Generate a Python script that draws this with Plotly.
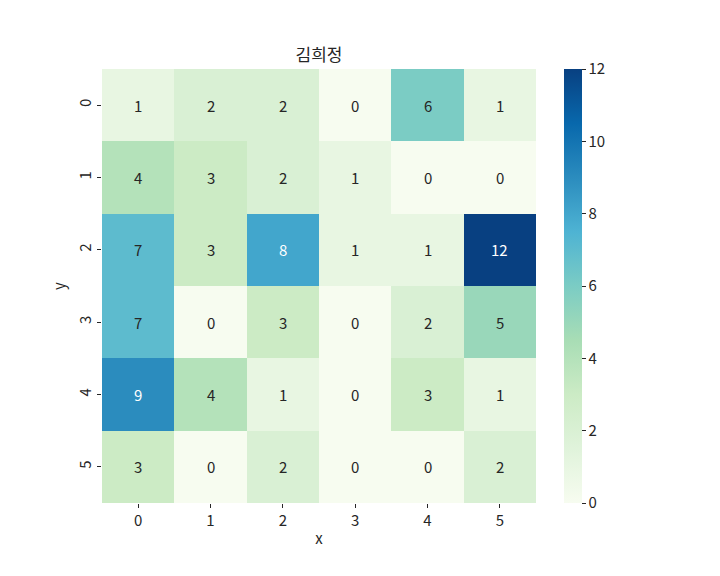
import plotly.graph_objects as go

x_labels = ["0", "1", "2", "3", "4", "5"]
y_labels = ["0", "1", "2", "3", "4", "5"]
values = [
    [1, 2, 2, 0, 6, 1],
    [4, 3, 2, 1, 0, 0],
    [7, 3, 8, 1, 1, 12],
    [7, 0, 3, 0, 2, 5],
    [9, 4, 1, 0, 3, 1],
    [3, 0, 2, 0, 0, 2],
]
title = "김희정"

FONT = "Noto Sans CJK KR"
TXT = "#262626"
FS = 15

fig = go.Figure()
fig.add_trace(go.Heatmap(
    z=values, x=x_labels, y=y_labels,
    colorscale="GnBu", zmin=0, zmax=12,
    xgap=0, ygap=0,
    colorbar=dict(
        thickness=18, len=1, lenmode="fraction", y=0.5, yanchor="middle",
        x=1.0645, xanchor="left", xpad=0, ypad=0,
        outlinewidth=0, tickvals=[0, 2, 4, 6, 8, 10, 12],
        ticks="outside", ticklen=4, tickcolor=TXT,
        tickfont=dict(family=FONT, size=FS, color=TXT),
    ),
))

for i, row in enumerate(values):
    for j, v in enumerate(row):
        fig.add_annotation(
            x=x_labels[j], y=y_labels[i], text=str(v), showarrow=False,
            font=dict(family=FONT, size=FS, color="white" if v >= 8 else TXT),
        )

fig.update_layout(
    width=720, height=576,
    margin=dict(l=102, r=184, t=69, b=73),
    paper_bgcolor="white", plot_bgcolor="white",
    title=dict(text=title, x=(102 + 536) / 2 / 720, xanchor="center",
               y=1 - 55 / 576, yanchor="middle",
               font=dict(family=FONT, size=17, color=TXT)),
    font=dict(family=FONT, color=TXT),
    xaxis=dict(title=dict(text="x", font=dict(family=FONT, size=FS, color=TXT), standoff=4),
               tickfont=dict(family=FONT, size=FS, color=TXT),
               ticks="outside", ticklen=4, tickcolor=TXT, showgrid=False, zeroline=False,
               constrain="domain"),
    yaxis=dict(title=dict(text="y", font=dict(family=FONT, size=FS, color=TXT), standoff=4),
               tickfont=dict(family=FONT, size=FS, color=TXT), tickangle=-90,
               autorange="reversed",
               ticks="outside", ticklen=4, tickcolor=TXT, showgrid=False, zeroline=False),
)

fig.write_html("out.html")
